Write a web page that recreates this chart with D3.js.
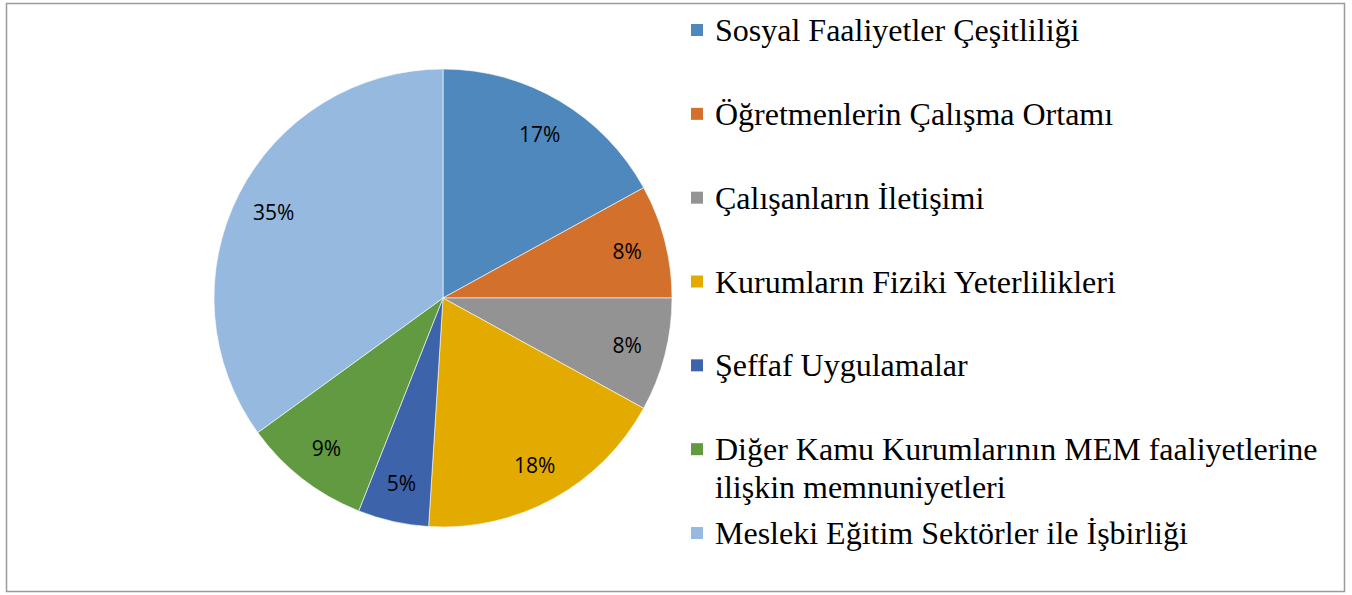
<!DOCTYPE html>
<html><head><meta charset="utf-8">
<script src="https://cdn.jsdelivr.net/npm/d3@7"></script>
<style>html,body{margin:0;padding:0;background:#fff;}</style>
</head><body>
<svg id="c" width="1352" height="595"></svg>
<script>
const categories = [
  "Sosyal Faaliyetler Çeşitliliği",
  "Öğretmenlerin Çalışma Ortamı",
  "Çalışanların İletişimi",
  "Kurumların Fiziki Yeterlilikleri",
  "Şeffaf Uygulamalar",
  "Diğer Kamu Kurumlarının MEM faaliyetlerine|ilişkin memnuniyetleri",
  "Mesleki Eğitim Sektörler ile İşbirliği"
];
const values = [17, 8, 8, 18, 5, 9, 35];
const labels = ["17%", "8%", "8%", "18%", "5%", "9%", "35%"];
const colors = ["#4F88BD", "#D3702B", "#939393", "#E3AA00", "#3D64AB", "#629A41", "#96B9DF"];

const svg = d3.select("#c");
svg.append("rect").attr("x", 6.5).attr("y", 3.5).attr("width", 1338).attr("height", 588)
  .attr("fill", "#fff").attr("stroke", "#9a9a9a").attr("stroke-width", 1.5);

const cx = 443, cy = 298, R = 229;
const pie = d3.pie().sort(null).value(d => d)(values);
const arc = d3.arc().innerRadius(0).outerRadius(R);
const labelArc = d3.arc().innerRadius(R * 0.83).outerRadius(R * 0.83);
const g = svg.append("g").attr("transform", `translate(${cx},${cy})`);
g.selectAll("path").data(pie).join("path")
  .attr("d", arc).attr("fill", (d, i) => colors[i])
  .attr("stroke", "#fff").attr("stroke-width", 0.6);
g.selectAll("text").data(pie).join("text")
  .attr("transform", d => `translate(${labelArc.centroid(d)})`)
  .attr("text-anchor", "middle").attr("dominant-baseline", "central")
  .attr("font-family", "'Open Sans', sans-serif").attr("font-size", 21)
  .attr("fill", "#000")
  .text((d, i) => labels[i]);

const lg = svg.append("g");
const rowY = d3.scaleLinear().domain([0, 6]).range([30, 533]);
categories.forEach((c, i) => {
  const y = rowY(i);
  lg.append("rect").attr("x", 691).attr("y", y - 6).attr("width", 12).attr("height", 12).attr("fill", colors[i]);
  const t = lg.append("text").attr("x", 715).attr("y", y)
    .attr("font-family", "'Liberation Serif', 'Times New Roman', serif").attr("font-size", 32)
    .attr("fill", "#000").attr("dominant-baseline", "central");
  c.split("|").forEach((line, k) => {
    t.append("tspan").attr("x", 715).attr("dy", k === 0 ? 0 : 38).text(line);
  });
});
</script>
</body></html>
